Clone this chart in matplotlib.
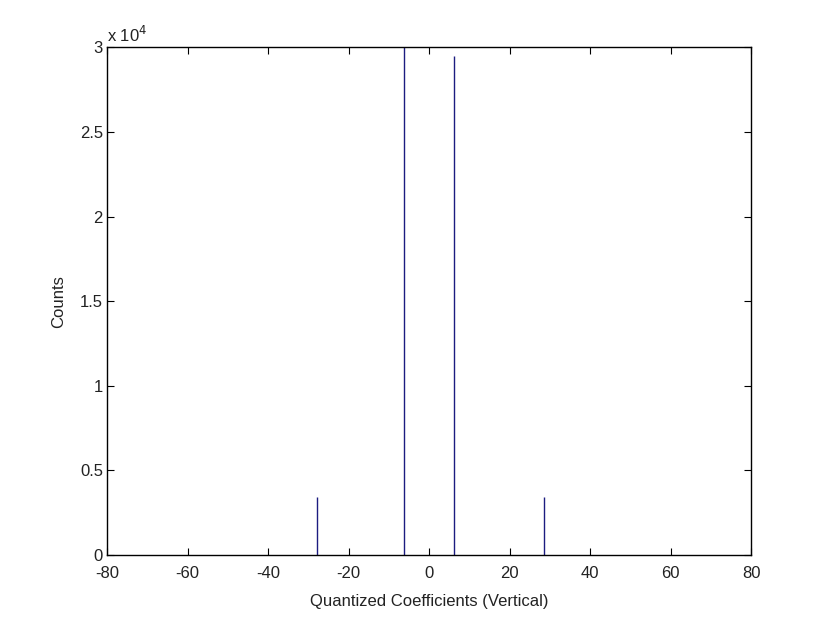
import matplotlib
matplotlib.use("Agg")
import matplotlib.pyplot as plt
from matplotlib.ticker import FuncFormatter

plt.rcParams['font.family'] = ['Liberation Sans', 'DejaVu Sans']
plt.rcParams['axes.unicode_minus'] = False

# quantized coefficient values and their counts
coeffs = [-27.9, -6.3, 6.1, 28.5]
counts = [3410, 31000, 29480, 3410]

fig = plt.figure(figsize=(8.3, 6.23), dpi=100)
ax = fig.add_axes([0.129, 0.109, 0.776, 0.815])

ax.vlines(coeffs, 0, counts, colors="#1c1c80", linewidth=1.0)

ax.set_xlim(-80, 80)
ax.set_ylim(0, 30000)
ax.set_xticks(range(-80, 81, 20))
ax.set_yticks([0, 5000, 10000, 15000, 20000, 25000, 30000])
ax.yaxis.set_major_formatter(FuncFormatter(lambda v, p: "%g" % (v / 1e4)))
ax.tick_params(direction="in", top=True, right=True, length=5, labelsize=12,
               colors="black", labelcolor="#222222")
ax.tick_params(axis="x", pad=8)
ax.tick_params(axis="y", pad=3)
for s in ax.spines.values():
    s.set_linewidth(1.0)

ax.set_xlabel("Quantized Coefficients (Vertical)", fontsize=12, color="#222222",
              labelpad=9)
ax.set_ylabel("Counts", fontsize=12, color="#222222", labelpad=10)
ax.text(0.0, 1.005, "x 10$^{4}$", transform=ax.transAxes, fontsize=12,
        color="#222222", ha="left", va="bottom")

fig.savefig("out.png", dpi=100)
